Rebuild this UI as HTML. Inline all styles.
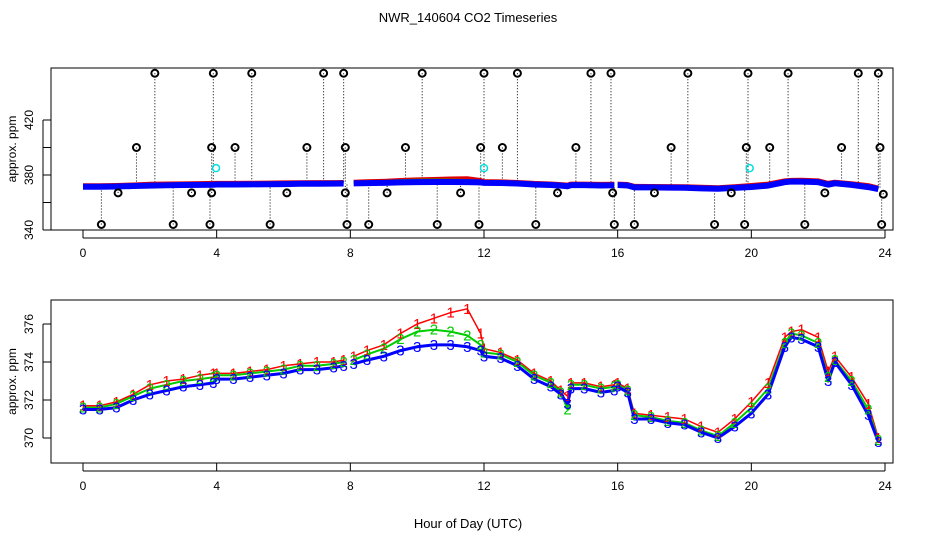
<!DOCTYPE html>
<html><head><meta charset="utf-8"><style>
body{margin:0;background:#fff;}
svg{display:block;font-family:"Liberation Sans",sans-serif;}
</style></head><body>
<svg id="chart" width="936" height="540">
<text x="468" y="22" text-anchor="middle" font-size="13">NWR_140604  CO2 Timeseries</text>
<text x="468" y="528" text-anchor="middle" font-size="13">Hour of Day (UTC)</text>
<g id="topPanel"></g>
<g id="botPanel"></g>
</svg>
<script>
const hours=[0,0.5,1,1.5,2,2.5,3,3.5,3.9,4,4.5,5,5.5,6,6.5,7,7.5,7.8,8.1,8.5,9,9.5,10,10.5,11,11.5,11.9,12,12.5,13,13.5,14,14.3,14.5,14.6,15,15.5,15.9,16,16.3,16.5,17,17.5,18,18.5,19,19.5,20,20.5,21,21.2,21.5,22,22.3,22.5,23,23.5,23.8];
const s3=[371.5,371.5,371.6,372.0,372.3,372.5,372.7,372.8,372.9,373.1,373.1,373.2,373.3,373.4,373.6,373.6,373.7,373.8,373.9,374.1,374.3,374.6,374.8,374.9,374.9,374.8,374.6,374.3,374.2,373.8,373.1,372.7,372.3,371.8,372.6,372.6,372.4,372.5,372.7,372.4,371.0,371.0,370.8,370.7,370.3,370.0,370.6,371.3,372.3,374.8,375.3,375.2,374.8,373.0,374.0,372.8,371.2,369.8];
const s2=[371.6,371.6,371.8,372.2,372.6,372.8,373.0,373.1,373.2,373.3,373.3,373.4,373.5,373.6,373.8,373.8,373.9,374.0,374.1,374.4,374.7,375.2,375.6,375.7,375.6,375.4,374.9,374.5,374.4,374.0,373.3,372.9,372.4,371.5,372.8,372.8,372.6,372.7,372.8,372.5,371.2,371.1,370.9,370.8,370.4,370.1,370.8,371.6,372.6,375.0,375.5,375.4,375.0,373.2,374.1,373.0,371.5,369.9];
const s1=[371.7,371.7,371.9,372.3,372.8,373.0,373.1,373.3,373.4,373.4,373.4,373.5,373.6,373.8,373.9,374.0,374.0,374.1,374.3,374.6,374.9,375.5,376.0,376.3,376.6,376.8,375.5,374.7,374.5,374.1,373.4,373.0,372.5,372.2,372.9,372.9,372.7,372.8,372.9,372.6,371.3,371.2,371.1,371.0,370.6,370.3,371.0,371.9,372.9,375.3,375.6,375.7,375.3,373.5,374.3,373.2,371.8,370.0];
const outHours=[2.15,3.9,5.05,7.2,7.8,10.15,12.0,13.0,15.2,15.8,18.1,19.9,21.1,23.2,23.8,1.6,3.85,4.55,6.7,7.85,9.65,11.9,12.55,14.75,17.6,19.85,20.55,22.7,23.85,0.55,2.7,3.8,5.6,7.9,8.55,10.6,11.85,13.55,15.9,16.5,18.9,19.8,21.6,23.9,1.05,3.25,3.85,6.1,7.85,9.1,11.3,14.2,15.85,17.1,19.4,22.2,23.95];
const outVals=[454,454,454,454,454,454,454,454,454,454,454,454,454,454,454,400,400,400,400,400,400,400,400,400,400,400,400,400,400,344,344,344,344,344,344,344,344,344,344,344,344,344,344,344,367,367,367,367,367,367,367,367,367,367,367,367,366];
const cyanHours=[3.98,12.0,19.95];
const cyanVals=[385,385,385];
const xTicks=[0,4,8,12,16,20,24];
const topTicks=[340,380,420];
const topMinor=[360,400];
const botTicks=[370,372,374,376];

const NS="http://www.w3.org/2000/svg";
function mk(p,t,a){const e=document.createElementNS(NS,t);for(const k in a)e.setAttribute(k,a[k]);p.appendChild(e);return e;}
const X=h=>83+h*(885-83)/24;
const YT=v=>230-(v-340)*27.5/20;
const YB=v=>400-(v-372)*19;
function interp(h){for(let i=0;i<hours.length-1;i++){if(h>=hours[i]&&h<=hours[i+1]){const t=(h-hours[i])/(hours[i+1]-hours[i]);return s3[i]+t*(s3[i+1]-s3[i]);}}return s3[s3.length-1];}
const segs=[[0,17],[18,37],[38,57]];

function axes(g,y0,y1,yt,Yf,label,minor){
  const box=mk(g,'rect',{x:51,y:y0,width:842,height:y1-y0,fill:'none',stroke:'#000','stroke-width':1});
  
  
  mk(g,'line',{x1:X(0),x2:X(24),y1:y1+8,y2:y1+8,stroke:'#000'});
  xTicks.forEach(t=>{
    mk(g,'line',{x1:X(t),x2:X(t),y1:y1,y2:y1+8,stroke:'#000'});
    const tx=mk(g,'text',{x:X(t),y:y1+27,'text-anchor':'middle','font-size':12});
    tx.textContent=t;
    
    
  });
  const all=yt.concat(minor);
  mk(g,'line',{x1:43,x2:43,y1:Yf(Math.min(...all)),y2:Yf(Math.max(...all)),stroke:'#000'});
  all.forEach(v=>mk(g,'line',{x1:43,x2:51,y1:Yf(v),y2:Yf(v),stroke:'#000'}));
  yt.forEach(v=>{
    const tx=mk(g,'text',{x:0,y:0,'text-anchor':'middle','font-size':12,transform:`translate(33,${Yf(v)}) rotate(-90)`});
    tx.textContent=v;
    
    
  });
  const yl=mk(g,'text',{x:0,y:0,'text-anchor':'middle','font-size':12,transform:`translate(16,${(y0+y1)/2}) rotate(-90)`});
  yl.textContent=label;
  
  
}

const topG=document.getElementById('topPanel');
axes(topG,68,230,topTicks,YT,'approx. ppm',topMinor);
outHours.forEach((h,i)=>{
  mk(topG,'line',{x1:X(h),x2:X(h),y1:YT(outVals[i]),y2:YT(interp(h)),stroke:'#000','stroke-dasharray':'1,2'});
});
[[s1,'#e00000',1.2,3],[s2,'#00c000',0.6,3],[s3,'#0000ff',0,6]].forEach(([s,c,off,w],k)=>{
  segs.forEach(([a,b])=>{
    let d='';for(let i=a;i<=b;i++)d+=(i==a?'M':'L')+X(hours[i])+','+YT(s[i]+off);
    const p=mk(topG,'path',{d:d,fill:'none',stroke:c,'stroke-width':w,'stroke-linejoin':'round'});
    
    
  });
});
outHours.forEach((h,i)=>{
  const c=mk(topG,'circle',{cx:X(h),cy:YT(outVals[i]),r:3.5,fill:'none',stroke:'#000','stroke-width':2});
  
  
});
cyanHours.forEach((h,i)=>{
  const c=mk(topG,'circle',{cx:X(h),cy:YT(cyanVals[i]),r:3.5,fill:'none',stroke:'#00e0e0','stroke-width':1.5});
  
  
});

const botG=document.getElementById('botPanel');
axes(botG,300,463,botTicks,YB,'approx. ppm',[]);
[[s1,'#ff0000','1',1.5],[s2,'#00cc00','2',2],[s3,'#0000ff','3',3]].forEach(([s,c,ch,w])=>{
  segs.forEach(([a,b])=>{
    let d='';for(let i=a;i<=b;i++)d+=(i==a?'M':'L')+X(hours[i])+','+YB(s[i]);
    const p=mk(botG,'path',{d:d,fill:'none',stroke:c,'stroke-width':w,'stroke-linejoin':'round'});
    
    
  });
});
[[s1,'#ff0000','1'],[s2,'#00cc00','2'],[s3,'#0000ff','3']].forEach(([s,c,ch])=>{
  s.forEach((v,i)=>{
    const t=mk(botG,'text',{x:X(hours[i]),y:YB(v)+5,'text-anchor':'middle','font-size':15,fill:c});
    t.textContent=ch;
    
    
  });
});
</script>
</body></html>
